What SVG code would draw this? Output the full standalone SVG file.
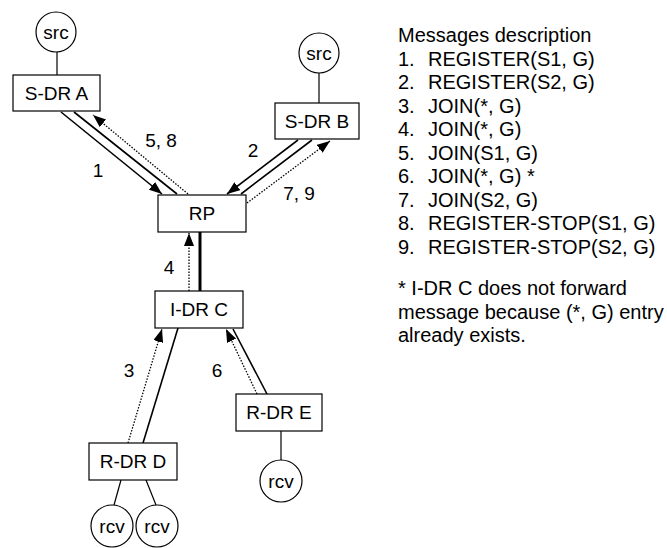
<svg xmlns="http://www.w3.org/2000/svg" width="667" height="548" viewBox="0 0 667 548">
<style>
.box{fill:#fff;stroke:#000;stroke-width:1.2}
.circ{fill:#fff;stroke:#000;stroke-width:1.2}
.ln{stroke:#000;stroke-width:1.2;fill:none}
.sol{stroke:#000;stroke-width:1.6;fill:none}
.thick{stroke:#000;stroke-width:3;fill:none}
.dot{stroke:#000;stroke-width:1.3;stroke-dasharray:1.5 1.5;fill:none}
text{font-family:"Liberation Sans",Arial,sans-serif;fill:#000}
.nt{font-size:19px;text-anchor:middle}
.lb{font-size:19px;text-anchor:middle}
.tx{font-size:20px}
</style>
<defs>
<marker id="ah" markerUnits="userSpaceOnUse" markerWidth="14" markerHeight="10" refX="13" refY="5" orient="auto">
<path d="M0,0 L13,5 L0,10 Z" fill="#000"/>
</marker>
</defs>
<rect width="667" height="548" fill="#fff"/>

<g id="connectors">
<line class="ln" x1="57" y1="52" x2="57" y2="75"/>
<line class="ln" x1="319" y1="73" x2="319" y2="103"/>
<line class="ln" x1="121" y1="480" x2="114" y2="505"/>
<line class="ln" x1="146" y1="480" x2="156" y2="505"/>
<line class="ln" x1="281" y1="431" x2="281" y2="460"/>

<line class="sol" x1="61" y1="112" x2="162" y2="194" marker-end="url(#ah)"/>
<line class="sol" x1="74" y1="112" x2="177" y2="194"/>
<line class="dot" x1="188" y1="194" x2="93" y2="115" marker-end="url(#ah)"/>

<line class="sol" x1="298" y1="140" x2="227" y2="194" marker-end="url(#ah)"/>
<line class="sol" x1="312" y1="140" x2="241" y2="194"/>
<line class="dot" x1="247" y1="203" x2="330" y2="141" marker-end="url(#ah)"/>

<line class="dot" x1="189" y1="291" x2="189" y2="233" marker-end="url(#ah)"/>
<line class="thick" x1="200" y1="291" x2="200" y2="232"/>

<line class="dot" x1="128" y1="443" x2="162" y2="329" marker-end="url(#ah)"/>
<line class="sol" x1="143" y1="443" x2="178" y2="328"/>

<line class="dot" x1="257" y1="394" x2="226" y2="329" marker-end="url(#ah)"/>
<line class="sol" x1="267" y1="394" x2="233" y2="329"/>
</g>

<g id="labels">
<text class="lb" x="98" y="177">1</text>
<text class="lb" x="161" y="147">5, 8</text>
<text class="lb" x="253" y="157">2</text>
<text class="lb" x="299" y="200">7, 9</text>
<text class="lb" x="169" y="274">4</text>
<text class="lb" x="129" y="377">3</text>
<text class="lb" x="217" y="377">6</text>
</g>

<g id="srcA"><circle class="circ" cx="56" cy="32" r="20"/><text class="nt" x="56" y="39">src</text></g>
<g id="sdrA"><rect class="box" x="13" y="75" width="87" height="36"/><text class="nt" x="56.5" y="100">S-DR A</text></g>
<g id="srcB"><circle class="circ" cx="319" cy="53" r="20"/><text class="nt" x="319" y="60">src</text></g>
<g id="sdrB"><rect class="box" x="275" y="103" width="84" height="36"/><text class="nt" x="317" y="128">S-DR B</text></g>
<g id="rp"><rect class="box" x="158" y="195" width="88" height="37"/><text class="nt" x="202" y="220">RP</text></g>
<g id="idrC"><rect class="box" x="155" y="291" width="88" height="37"/><text class="nt" x="199" y="316">I-DR C</text></g>
<g id="rdrD"><rect class="box" x="89" y="443" width="88" height="37"/><text class="nt" x="133" y="468">R-DR D</text></g>
<g id="rdrE"><rect class="box" x="236" y="394" width="86" height="37"/><text class="nt" x="279" y="419">R-DR E</text></g>
<g id="rcvD1"><circle class="circ" cx="112" cy="526" r="21"/><text class="nt" x="112" y="533">rcv</text></g>
<g id="rcvD2"><circle class="circ" cx="157" cy="526" r="21"/><text class="nt" x="157" y="533">rcv</text></g>
<g id="rcvE"><circle class="circ" cx="281" cy="481" r="21"/><text class="nt" x="281" y="488">rcv</text></g>

<g id="legend" class="tx">
<text x="398" y="42">Messages description</text>
<text x="398" y="65.5">1.</text><text x="428" y="65.5">REGISTER(S1, G)</text>
<text x="398" y="89">2.</text><text x="428" y="89">REGISTER(S2, G)</text>
<text x="398" y="112.5">3.</text><text x="428" y="112.5">JOIN(*, G)</text>
<text x="398" y="136">4.</text><text x="428" y="136">JOIN(*, G)</text>
<text x="398" y="159.5">5.</text><text x="428" y="159.5">JOIN(S1, G)</text>
<text x="398" y="183">6.</text><text x="428" y="183">JOIN(*, G) *</text>
<text x="398" y="206.5">7.</text><text x="428" y="206.5">JOIN(S2, G)</text>
<text x="398" y="230">8.</text><text x="428" y="230">REGISTER-STOP(S1, G)</text>
<text x="398" y="253.5">9.</text><text x="428" y="253.5">REGISTER-STOP(S2, G)</text>
<text x="398" y="295">* I-DR C does not forward</text>
<text x="398" y="318.5">message because (*, G) entry</text>
<text x="398" y="342">already exists.</text>
</g>
</svg>
